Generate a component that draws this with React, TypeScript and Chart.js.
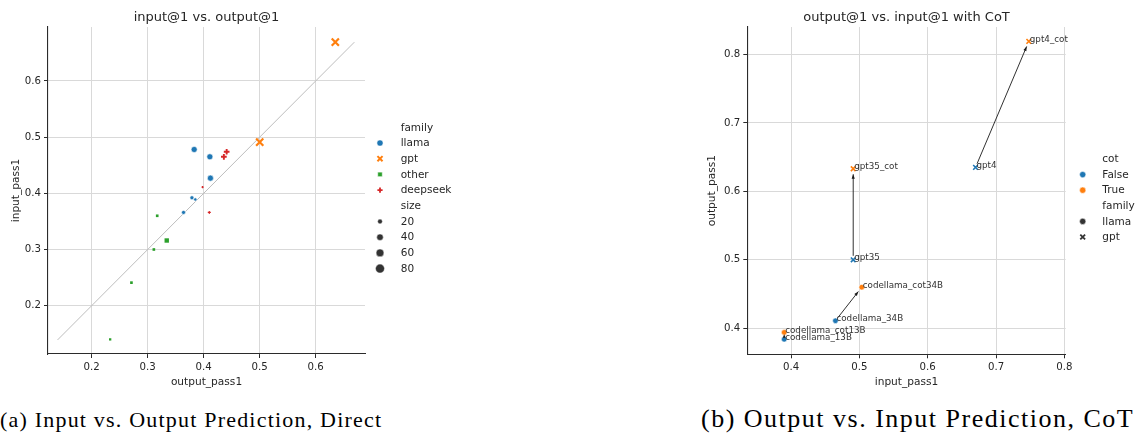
import React, { useEffect, useRef } from 'react';
import { Chart, registerables } from 'chart.js';
import { drawPoint } from 'chart.js/helpers';

Chart.register(...registerables);

const FONT_FAMILY = "'DejaVu Sans', 'Liberation Sans', sans-serif";
const TEXT = '#262626';
const AXIS = '#2b2b2b';
const GRID = '#d9d9d9';
const DIAG = '#bdbdbd';
const BLUE = '#1f77b4';
const ORANGE = '#ff7f0e';
const GREEN = '#2ca02c';
const RED = '#d62728';
const DARK = '#333333';

// ---------------- panel (a) ----------------
const leftTitle = 'input@1 vs. output@1';
const leftXLabel = 'output_pass1';
const leftYLabel = 'input_pass1';
const leftXTicks = [0.2, 0.3, 0.4, 0.5, 0.6];
const leftYTicks = [0.2, 0.3, 0.4, 0.5, 0.6];
const leftXRange = [0.122, 0.688];
const leftYRange = [0.114, 0.696];
const diagonalEnds = [0.139, 0.669];

const llamaOutput = [0.383, 0.411, 0.412, 0.379, 0.385, 0.364];
const llamaInput = [0.478, 0.465, 0.427, 0.392, 0.389, 0.366];
const llamaSize = [34, 34, 34, 13, 7, 13];

const gptOutput = [0.635, 0.5];
const gptInput = [0.669, 0.491];
const gptSize = [70, 70];

const otherOutput = [0.317, 0.334, 0.311, 0.271, 0.233];
const otherInput = [0.36, 0.316, 0.3, 0.241, 0.14];
const otherSize = [3, 15, 3, 3, 1.3];

const deepseekOutput = [0.436, 0.441, 0.398, 0.41];
const deepseekInput = [0.465, 0.474, 0.411, 0.366];
const deepseekSize = [33, 33, 1.3, 6.7];

const familyLabels = ['llama', 'gpt', 'other', 'deepseek'];
const sizeLegendValues = [20, 40, 60, 80];
const leftCaption = '(a) Input vs. Output Prediction, Direct';

// ---------------- panel (b) ----------------
const rightTitle = 'output@1 vs. input@1 with CoT';
const rightXLabel = 'input_pass1';
const rightYLabel = 'output_pass1';
const rightXTicks = [0.4, 0.5, 0.6, 0.7, 0.8];
const rightYTicks = [0.4, 0.5, 0.6, 0.7, 0.8];
const rightXRange = [0.336, 0.802];
const rightYRange = [0.362, 0.84];

const rightModels = [
  'codellama_13B',
  'codellama_cot13B',
  'codellama_34B',
  'codellama_cot34B',
  'gpt35',
  'gpt35_cot',
  'gpt4',
  'gpt4_cot',
];
const rightInput = [0.39, 0.39, 0.465, 0.5035, 0.491, 0.491, 0.67, 0.748];
const rightOutput = [0.384, 0.394, 0.411, 0.46, 0.5, 0.633, 0.635, 0.819];
const rightCot = [false, true, false, true, false, true, false, true];
const rightFamily = ['llama', 'llama', 'llama', 'llama', 'gpt', 'gpt', 'gpt', 'gpt'];
const arrowPairs = [
  [0, 1],
  [2, 3],
  [4, 5],
  [6, 7],
];
const rightCaption = '(b) Output vs. Input Prediction, CoT';

// ---------------- helpers ----------------
const markerRadius = (s: number) => Math.sqrt(0.96 + 0.242 * s);

type LegendEntry = {
  header?: boolean;
  label: string;
  style?: string;
  color?: string;
  radius?: number;
  stroke?: boolean;
  lineWidth?: number;
};

function makeLegendPlugin(entries: LegendEntry[], top: number, spacing: number, markerDx: number, textDx: number) {
  return {
    id: 'seabornLegend',
    afterDraw(chart: any) {
      const { ctx, chartArea } = chart;
      ctx.save();
      ctx.font = `10.5px ${FONT_FAMILY}`;
      ctx.textBaseline = 'middle';
      ctx.textAlign = 'left';
      entries.forEach((e, i) => {
        const y = top + i * spacing;
        if (!e.header && e.style) {
          ctx.fillStyle = e.color;
          ctx.strokeStyle = e.stroke ? e.color : '#ffffff';
          ctx.lineWidth = e.stroke ? e.lineWidth || 2 : 0.5;
          drawPoint(
            ctx,
            { pointStyle: e.style as any, radius: e.radius || 3, borderWidth: e.stroke ? e.lineWidth || 2 : 0.5, rotation: 0 },
            chartArea.right + markerDx,
            y
          );
        }
        ctx.fillStyle = TEXT;
        ctx.fillText(e.label, chartArea.right + textDx, y + 0.5);
      });
      ctx.restore();
    },
  };
}

function axis(
  range: number[],
  ticks: number[],
  label: string,
  isX: boolean,
  fixed: number,
  titlePad: number
) {
  return {
    type: 'linear',
    min: range[0],
    max: range[1],
    afterBuildTicks: (s: any) => {
      s.ticks = ticks.map((v) => ({ value: v }));
    },
    afterFit: (s: any) => {
      if (isX) s.height = fixed;
      else s.width = fixed;
    },
    grid: {
      color: GRID,
      lineWidth: 1,
      drawTicks: true,
      tickLength: 4,
      tickColor: AXIS,
      tickWidth: 1,
    },
    border: { display: true, color: AXIS, width: 1.1 },
    ticks: {
      color: TEXT,
      font: { family: FONT_FAMILY, size: 10.2 },
      padding: 3,
      autoSkip: false,
      maxRotation: 0,
      callback: (v: any) => Number(v).toFixed(1),
    },
    title: {
      display: true,
      text: label,
      color: TEXT,
      font: { family: FONT_FAMILY, size: 10.6 },
      padding: isX ? { top: 0, bottom: titlePad } : { top: titlePad, bottom: 0 },
    },
  };
}

function titleOpts(text: string) {
  return {
    display: true,
    text,
    color: TEXT,
    fullSize: false,
    font: { family: FONT_FAMILY, size: 13, weight: 'normal' as const },
    padding: { top: 9.9, bottom: 1.5 },
  };
}

const CANVAS_H = 395;
const LEFT_W = 470;
const RIGHT_X = 690;
const RIGHT_W = 448;

function makeLeftConfig(): any {
  const pts = (xs: number[], ys: number[]) => xs.map((x, i) => ({ x, y: ys[i] }));
  const legendEntries: LegendEntry[] = [
    { header: true, label: 'family' },
    { label: familyLabels[0], style: 'circle', color: BLUE, radius: 3.1 },
    { label: familyLabels[1], style: 'crossRot', color: ORANGE, radius: 3.6, stroke: true, lineWidth: 2 },
    { label: familyLabels[2], style: 'rect', color: GREEN, radius: 3.2 },
    { label: familyLabels[3], style: 'cross', color: RED, radius: 2.6, stroke: true, lineWidth: 1.8 },
    { header: true, label: 'size' },
    ...sizeLegendValues.map((s) => ({ label: String(s), style: 'circle', color: DARK, radius: markerRadius(s) })),
  ];
  return {
    type: 'scatter',
    data: {
      datasets: [
        {
          label: 'llama',
          data: pts(llamaOutput, llamaInput),
          pointStyle: 'circle',
          pointRadius: llamaSize.map(markerRadius),
          backgroundColor: BLUE,
          borderColor: '#ffffff',
          borderWidth: 0.6,
          order: 1,
        },
        {
          label: 'gpt',
          data: pts(gptOutput, gptInput),
          pointStyle: 'crossRot',
          pointRadius: gptSize.map((s) => markerRadius(s) * 1.2),
          backgroundColor: ORANGE,
          borderColor: ORANGE,
          borderWidth: 2.2,
          order: 1,
        },
        {
          label: 'other',
          data: pts(otherOutput, otherInput),
          pointStyle: 'rect',
          pointRadius: otherSize.map((s) => markerRadius(s) * 1.45),
          backgroundColor: GREEN,
          borderColor: GREEN,
          borderWidth: 0,
          order: 1,
        },
        {
          label: 'deepseek',
          data: pts(deepseekOutput, deepseekInput),
          pointStyle: 'cross',
          pointRadius: deepseekSize.map((s) => markerRadius(s) * 0.95),
          backgroundColor: RED,
          borderColor: RED,
          borderWidth: deepseekSize.map((s) => (s > 10 ? 1.9 : 1.1)),
          order: 1,
        },
        {
          label: 'diagonal',
          data: [
            { x: diagonalEnds[0], y: diagonalEnds[0] },
            { x: diagonalEnds[1], y: diagonalEnds[1] },
          ],
          showLine: true,
          pointRadius: 0,
          borderColor: DIAG,
          borderWidth: 1,
          order: 10,
        },
      ],
    },
    options: {
      animation: false,
      responsive: false,
      events: [],
      layout: { padding: { left: 0, top: 0, right: LEFT_W - 365, bottom: 0 } },
      plugins: {
        legend: { display: false },
        tooltip: { enabled: false },
        title: titleOpts(leftTitle),
      },
      scales: {
        x: axis(leftXRange, leftXTicks, leftXLabel, true, CANVAS_H - 354, 6.5),
        y: axis(leftYRange, leftYTicks, leftYLabel, false, 48, 9.4),
      },
    },
    plugins: [makeLegendPlugin(legendEntries, 127.3, 15.7, 15, 35.7)],
  };
}

function makeRightConfig(): any {
  const idx = rightModels.map((_, i) => i);
  const group = (fam: string, cot: boolean) =>
    idx
      .filter((i) => rightFamily[i] === fam && rightCot[i] === cot)
      .map((i) => ({ x: rightInput[i], y: rightOutput[i] }));
  const circleDs = (cot: boolean) => ({
    data: group('llama', cot),
    pointStyle: 'circle',
    pointRadius: 2.8,
    backgroundColor: cot ? ORANGE : BLUE,
    borderColor: '#ffffff',
    borderWidth: 0.6,
  });
  const crossDs = (cot: boolean) => ({
    data: group('gpt', cot),
    pointStyle: 'crossRot',
    pointRadius: 3.3,
    backgroundColor: cot ? ORANGE : BLUE,
    borderColor: cot ? ORANGE : BLUE,
    borderWidth: 1.6,
  });

  const annotatePlugin = {
    id: 'annotate',
    afterDatasetsDraw(chart: any) {
      const { ctx, scales } = chart;
      const px = (i: number) => scales.x.getPixelForValue(rightInput[i]);
      const py = (i: number) => scales.y.getPixelForValue(rightOutput[i]);
      ctx.save();
      ctx.strokeStyle = '#1a1a1a';
      ctx.fillStyle = '#1a1a1a';
      ctx.lineWidth = 0.9;
      arrowPairs.forEach(([a, b]) => {
        const x0 = px(a), y0 = py(a), x1 = px(b), y1 = py(b);
        const dx = x1 - x0, dy = y1 - y0;
        const len = Math.hypot(dx, dy);
        if (len < 1) return;
        const ux = dx / len, uy = dy / len;
        const shrinkA = 4, shrinkB = 5.5;
        if (len <= shrinkA + shrinkB) {
          const tx = x0 + ux * (len * 0.5), ty = y0 + uy * (len * 0.5);
          ctx.beginPath();
          ctx.moveTo(tx + ux * 1.5, ty + uy * 1.5);
          ctx.lineTo(tx - ux * 2 - uy * 1.4, ty - uy * 2 + ux * 1.4);
          ctx.lineTo(tx - ux * 2 + uy * 1.4, ty - uy * 2 - ux * 1.4);
          ctx.closePath();
          ctx.fill();
          return;
        }
        const sx = x0 + ux * shrinkA, sy = y0 + uy * shrinkA;
        const ex = x1 - ux * shrinkB, ey = y1 - uy * shrinkB;
        ctx.beginPath();
        ctx.moveTo(sx, sy);
        ctx.lineTo(ex, ey);
        ctx.stroke();
        const hl = 4.5, hw = 1.6;
        ctx.beginPath();
        ctx.moveTo(ex, ey);
        ctx.lineTo(ex - ux * hl - uy * hw, ey - uy * hl + ux * hw);
        ctx.lineTo(ex - ux * hl + uy * hw, ey - uy * hl - ux * hw);
        ctx.closePath();
        ctx.fill();
      });
      ctx.font = `8.75px ${FONT_FAMILY}`;
      ctx.fillStyle = '#333333';
      ctx.textAlign = 'left';
      ctx.textBaseline = 'alphabetic';
      rightModels.forEach((name, i) => {
        ctx.fillText(name, px(i) + 1, py(i) + 0.5);
      });
      ctx.restore();
    },
  };

  const legendEntries: LegendEntry[] = [
    { header: true, label: 'cot' },
    { label: 'False', style: 'circle', color: BLUE, radius: 3.1 },
    { label: 'True', style: 'circle', color: ORANGE, radius: 3.1 },
    { header: true, label: 'family' },
    { label: 'llama', style: 'circle', color: DARK, radius: 3.1 },
    { label: 'gpt', style: 'crossRot', color: DARK, radius: 3.4, stroke: true, lineWidth: 1.8 },
  ];

  return {
    type: 'scatter',
    data: {
      datasets: [circleDs(false), circleDs(true), crossDs(false), crossDs(true)],
    },
    options: {
      animation: false,
      responsive: false,
      events: [],
      layout: { padding: { left: 0, top: 0, right: RIGHT_W - 375.7, bottom: 0 } },
      plugins: {
        legend: { display: false },
        tooltip: { enabled: false },
        title: titleOpts(rightTitle),
      },
      scales: {
        x: axis(rightXRange, rightXTicks, rightXLabel, true, CANVAS_H - 354.3, 6.5),
        y: axis(rightYRange, rightYTicks, rightYLabel, false, 57.3, 16.2),
      },
    },
    plugins: [annotatePlugin, makeLegendPlugin(legendEntries, 159, 15.6, 17, 36.6)],
  };
}

function ChartCanvas(props: { make: () => any; left: number; top: number; width: number; height: number }) {
  const ref = useRef<HTMLCanvasElement>(null);
  useEffect(() => {
    const chart = new Chart(ref.current as HTMLCanvasElement, props.make());
    return () => chart.destroy();
  }, []);
  return (
    <canvas
      ref={ref}
      width={props.width}
      height={props.height}
      style={{ position: 'absolute', left: props.left, top: props.top, width: props.width, height: props.height }}
    />
  );
}

const captionBase: React.CSSProperties = {
  position: 'absolute',
  fontFamily: "'Liberation Serif', 'Times New Roman', serif",
  color: '#000',
  whiteSpace: 'nowrap',
};

export default function App() {
  return (
    <div style={{ position: 'absolute', left: 0, top: 0, width: 1138, height: 439, background: '#fff', overflow: 'hidden' }}>
      <ChartCanvas make={makeLeftConfig} left={0} top={0} width={LEFT_W} height={CANVAS_H} />
      <ChartCanvas make={makeRightConfig} left={RIGHT_X} top={0} width={RIGHT_W} height={CANVAS_H} />
      <div style={{ ...captionBase, left: 0, top: 409, fontSize: 22, lineHeight: '22px', letterSpacing: '1.2px' }}>
        {leftCaption}
      </div>
      <div style={{ ...captionBase, left: 701, top: 406, fontSize: 26, lineHeight: '26px', letterSpacing: '1.5px' }}>
        {rightCaption}
      </div>
    </div>
  );
}
